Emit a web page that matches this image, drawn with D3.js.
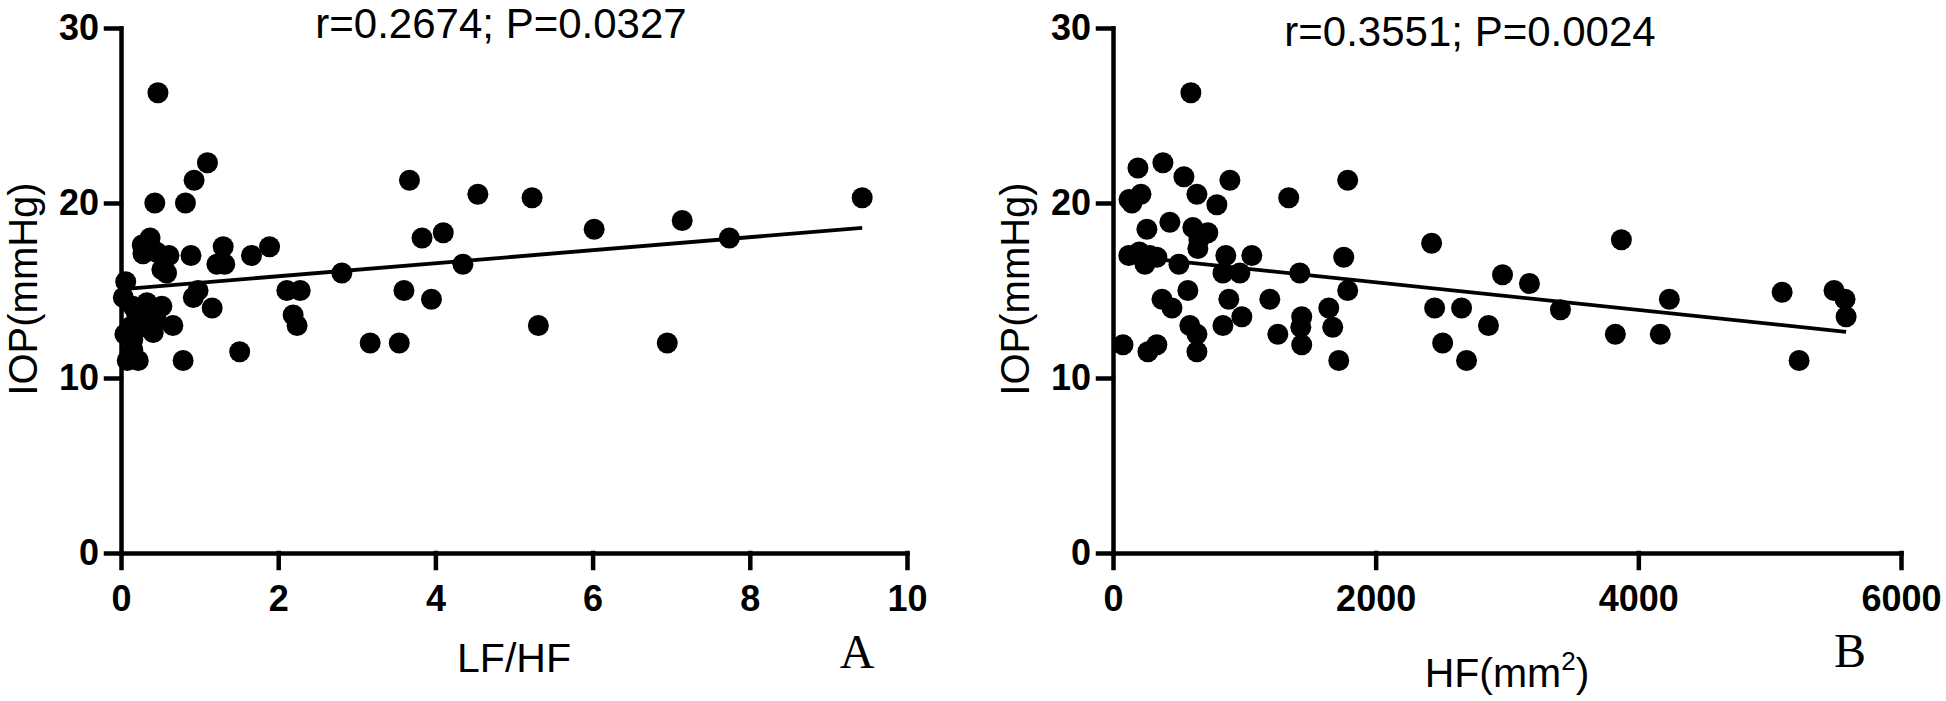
<!DOCTYPE html>
<html>
<head>
<meta charset="utf-8">
<script src="https://cdn.jsdelivr.net/npm/d3@7"></script>
<style>
  body { margin: 0; background: #fff; }
  #chart svg { display: block; }
</style>
</head>
<body>
<div id="chart"></div>
<script>
// values
// panel A: LF/HF vs IOP
const lfhf = [0.47, 1.10, 0.93, 0.43, 0.82, 3.67, 4.54, 5.23, 9.43, 7.14, 6.02, 7.74, 3.83, 4.10, 4.35, 2.81,
  3.60, 3.95, 3.17, 3.54, 5.31, 6.95, 2.11, 2.28, 2.19, 2.24, 1.51, 0.79, 1.89, 1.66, 1.30, 1.22, 1.32, 0.37,
  0.27, 0.28, 0.61, 0.89, 0.52, 0.58, 0.06, 0.03, 0.98, 0.92, 1.16, 0.08, 0.22, 0.15, 0.33, 0.52, 0.45, 0.66,
  0.24, 0.11, 0.41, 0.15, 0.15, 0.20, 0.35, 0.05, 0.45]
const iopA = [26.3, 22.3, 21.3, 20.0, 20.0, 21.3, 20.5, 20.3, 20.3, 19.0, 18.5, 18.0, 18.0, 18.3, 16.5, 16.0,
  15.0, 14.5, 12.0, 12.0, 13.0, 12.0, 15.0, 15.0, 13.6, 13.0, 11.5, 11.0, 17.5, 17.0, 17.5, 16.5, 16.5, 18.0,
  17.6, 17.1, 17.0, 17.0, 16.2, 16.0, 15.5, 14.6, 15.0, 14.6, 14.0, 11.0, 11.0, 14.1, 14.3, 14.1, 13.3, 13.0,
  12.9, 12.9, 12.6, 12.2, 11.6, 13.6, 13.8, 12.5, 17.2]

// panel B: HF (mm2) vs IOP
const hfArea = [593, 190, 380, 540, 890, 1787, 1338, 122, 213, 144, 639, 791, 433, 258, 608, 722, 654, 646,
  120, 200, 334, 243, 502, 859, 837, 966, 1057, 1422, 1757, 1787, 570, 373, 449, 882, 1194, 981, 837, 585,
  639, 639, 1255, 1437, 1430, 1437, 1643, 1673, 1719, 76, 266, 334, 2426, 2449, 2654, 2510, 2692, 2859,
  2966, 3171, 3407, 3871, 3825, 4167, 4236, 5095, 5490, 5574, 5582, 5224, 280]
const iopB = [26.3, 22.0, 22.3, 21.5, 21.3, 21.3, 20.3, 20.2, 20.5, 20.0, 20.5, 19.9, 18.9, 18.5, 18.6, 18.3,
  17.9, 17.4, 17.0, 17.2, 16.9, 16.5, 16.5, 17.0, 16.0, 16.0, 17.0, 16.0, 16.9, 15.0, 15.0, 14.5, 14.0, 14.5,
  14.5, 13.5, 13.0, 13.0, 12.5, 11.5, 12.5, 13.5, 12.9, 11.9, 14.0, 12.9, 11.0, 11.9, 11.5, 11.9, 17.7, 14.0,
  14.0, 12.0, 11.0, 13.0, 15.9, 15.4, 13.9, 17.9, 12.5, 12.5, 14.5, 14.9, 15.0, 14.5, 13.5, 11.0, 17.0]

// ticks
const yTicks = [0, 10, 20, 30]
const xTicksA = [0, 2, 4, 6, 8, 10]
const xTicksB = [0, 2000, 4000, 6000]

// regression lines [intercept, slope]
const fitA = [15.07, 0.372]
const fitB = [17.05, -0.00079]

const statsA = 'r=0.2674; P=0.0327'
const statsB = 'r=0.3551; P=0.0024'

async function draw() {

  // Dimensions
  let dimensions = {
    width: 1946,
    height: 701,
    top: 28,
    bottom: 553,
    font: '"Liberation Sans", Arial, Helvetica, sans-serif',
    serif: '"Liberation Serif", "Times New Roman", serif'
  }

  const svg = d3.select('#chart')
    .append('svg')
    .attr('width', dimensions.width)
    .attr('height', dimensions.height)

  const panels = [
    { xs: lfhf, ys: iopA, xTicks: xTicksA, fit: fitA, stats: statsA,
      left: 121, right: 907, statsX: 501, statsY: 38, yLabelX: 37,
      xLabel: 'LF/HF', xLabelY: 672, letter: 'A', letterX: 857, letterY: 668 },
    { xs: hfArea, ys: iopB, xTicks: xTicksB, fit: fitB, stats: statsB,
      left: 1113, right: 1901, statsX: 1470, statsY: 46, yLabelX: 1029,
      xLabel: 'HF(mm', sup: '2', xLabelY: 687, letter: 'B', letterX: 1850, letterY: 667 }
  ]

  panels.forEach(p => drawPanel(svg, p, dimensions))
  console.log('Panels drawn')
}

function drawPanel(svg, p, dimensions) {
  const points = p.xs.map((x, i) => [x, p.ys[i]])
  const xAccessor = d => d[0]
  const yAccessor = d => d[1]

  // Scales
  const xScale = d3.scaleLinear()
    .domain(d3.extent(p.xTicks))
    .range([p.left, p.right])
  const yScale = d3.scaleLinear()
    .domain(d3.extent(yTicks))
    .range([dimensions.bottom, dimensions.top])

  // Axis
  const yAxis = d3.axisLeft(yScale)
    .tickValues(yTicks)
    .tickSize(15)
    .tickSizeOuter(0)
    .tickPadding(7)
  const yG = svg.append('g')
    .attr('transform', `translate(${p.left},0)`)
    .call(yAxis)

  const xAxis = d3.axisBottom(xScale)
    .tickValues(p.xTicks)
    .tickSize(15)
    .tickSizeOuter(0)
    .tickPadding(17)
    .tickFormat(d3.format('d'))
  const xG = svg.append('g')
    .attr('transform', `translate(0,${dimensions.bottom})`)
    .call(xAxis)

  ;[yG, xG].forEach(g => {
    g.attr('font-size', 36)
      .attr('font-family', dimensions.font)
      .attr('font-weight', 'bold')
    g.selectAll('line, path')
      .attr('stroke', '#000')
      .attr('stroke-width', 4.5)
      .attr('stroke-linecap', 'square')
    g.selectAll('text').attr('fill', '#000')
  })

  // regression line over the data range
  const lineGenerator = d3.line()
    .x(d => xScale(d[0]))
    .y(d => yScale(d[1]))
  const fitPoints = d3.extent(points, xAccessor).map(x => [x, p.fit[0] + p.fit[1] * x])

  // dots
  svg.append('g')
    .selectAll('circle')
    .data(points)
    .join('circle')
    .attr('cx', d => xScale(xAccessor(d)))
    .attr('cy', d => yScale(yAccessor(d)))
    .attr('r', 10.5)
    .attr('fill', '#000')

  svg.append('path')
    .datum(fitPoints)
    .attr('d', lineGenerator)
    .attr('fill', 'none')
    .attr('stroke', '#000')
    .attr('stroke-width', 3.8)

  // stats text
  svg.append('text')
    .attr('x', p.statsX)
    .attr('y', p.statsY)
    .attr('text-anchor', 'middle')
    .attr('font-family', dimensions.font)
    .attr('font-size', 42)
    .text(p.stats)

  // y label
  svg.append('text')
    .attr('transform', `translate(${p.yLabelX},289) rotate(-90)`)
    .attr('text-anchor', 'middle')
    .attr('font-family', dimensions.font)
    .attr('font-size', 40)
    .text('IOP(mmHg)')

  // x label
  const xl = svg.append('text')
    .attr('x', (p.left + p.right) / 2)
    .attr('y', p.xLabelY)
    .attr('text-anchor', 'middle')
    .attr('font-family', dimensions.font)
    .attr('font-size', 41)
  xl.append('tspan').text(p.xLabel)
  if (p.sup) {
    xl.append('tspan').attr('font-size', 26).attr('dy', -17).text(p.sup)
    xl.append('tspan').attr('dy', 17).text(')')
  }

  // panel letter
  svg.append('text')
    .attr('x', p.letterX)
    .attr('y', p.letterY)
    .attr('text-anchor', 'middle')
    .attr('font-family', dimensions.serif)
    .attr('font-size', 48)
    .text(p.letter)
}

draw().then(response => {
  console.log('Response: ', response)
}).catch(e => {
  console.log('Error: ', e)
})
</script>
</body>
</html>
